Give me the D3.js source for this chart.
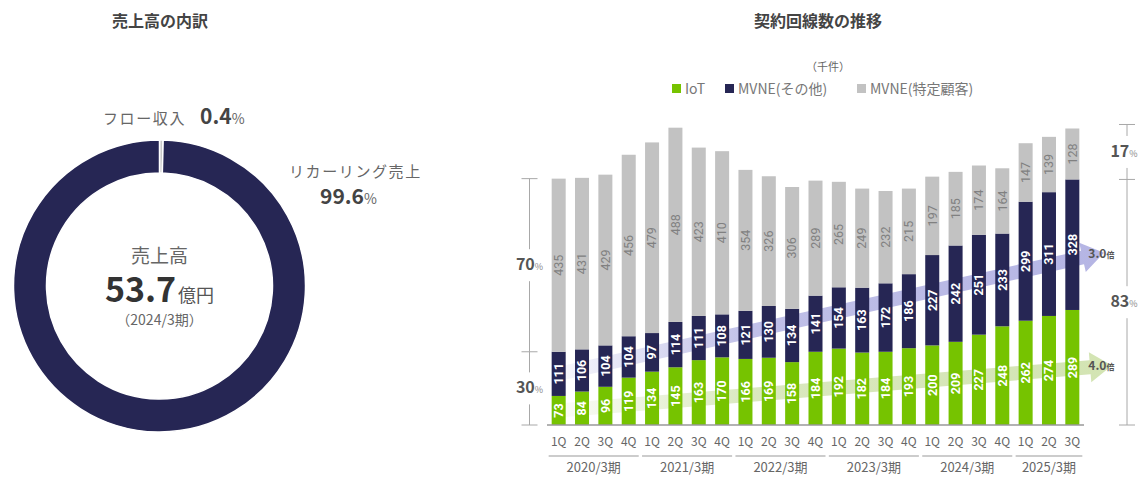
<!DOCTYPE html>
<html>
<head>
<meta charset="utf-8">
<script src="https://cdn.jsdelivr.net/npm/d3@7"></script>
<style>
  body { margin: 0; background: #fff; }
  svg { display: block; font-family: "Noto Sans CJK JP", "Noto Sans", sans-serif; }
</style>
</head>
<body>
<div id="chart"></div>
<script>
// donut data
const revenueKeys = ['フロー収入', 'リカーリング売上'];
const revenueShares = [0.4, 99.6];

// bar data (千件)
const quarterLabels = ['1Q', '2Q', '3Q', '4Q'];
const fiscalYears = ['2020/3期', '2021/3期', '2022/3期', '2023/3期', '2024/3期', '2025/3期'];
const quartersPerYear = [4, 4, 4, 4, 4, 3];
const iot = [73, 84, 96, 119, 134, 145, 163, 170, 166, 169, 158, 184, 192, 182, 184, 193, 200, 209, 227, 248, 262, 274, 289];
const mvneOther = [111, 106, 104, 104, 97, 114, 111, 108, 121, 130, 134, 141, 154, 163, 172, 186, 227, 242, 251, 233, 299, 311, 328];
const mvneSpecific = [435, 431, 429, 456, 479, 488, 423, 410, 354, 326, 306, 289, 265, 249, 232, 215, 197, 185, 174, 164, 147, 139, 128];
const seriesNames = ['IoT', 'MVNE(その他)', 'MVNE(特定顧客)'];

const colors = {
  iot: '#76c300',
  navy: '#262654',
  gray: '#c2c2c2',
  line: '#a8a8a8'
};

const W = 1139, H = 477;
const svg = d3.select('#chart').append('svg')
  .attr('width', W)
  .attr('height', H);

// ---------- left: donut ----------
svg.append('text')
  .attr('x', 160).attr('y', 27)
  .attr('text-anchor', 'middle')
  .attr('font-size', 16).attr('font-weight', 700)
  .attr('fill', '#444')
  .text('売上高の内訳');

const cx = 159.5, cy = 286;
const pie = d3.pie().sort(null).value(d => d.value);
const arc = d3.arc().innerRadius(113).outerRadius(146);
const donutData = revenueKeys.map((k, i) => ({ key: k, value: revenueShares[i] }));

const donut = svg.append('g').attr('transform', `translate(${cx},${cy})`);
donut.selectAll('path')
  .data(pie(donutData))
  .join('path')
  .attr('d', arc)
  .attr('fill', (d, i) => i === 0 ? '#c8c8c8' : colors.navy)
  .attr('stroke', '#fff')
  .attr('stroke-width', 1.5);

// center label
donut.append('text')
  .attr('y', -23).attr('text-anchor', 'middle')
  .attr('font-size', 19).attr('fill', '#666')
  .text('売上高');
const big = donut.append('text')
  .attr('y', 16).attr('text-anchor', 'middle')
  .attr('fill', '#333');
big.append('tspan').attr('font-size', 34).attr('font-weight', 700).text('53.7');
big.append('tspan').attr('font-size', 18).attr('fill', '#555').attr('dx', 2).text('億円');
donut.append('text')
  .attr('y', 39).attr('text-anchor', 'middle')
  .attr('font-size', 14).attr('fill', '#666')
  .text('（2024/3期）');

// outer labels
const flowLabel = svg.append('text')
  .attr('x', 103).attr('y', 124)
  .attr('fill', '#666');
flowLabel.append('tspan').attr('font-size', 15).attr('letter-spacing', 1.6).text(revenueKeys[0]);
flowLabel.append('tspan').attr('dx', 14).attr('font-size', 21).attr('font-weight', 700).attr('fill', '#444')
  .text(revenueShares[0].toFixed(1));
flowLabel.append('tspan').attr('font-size', 14).attr('fill', '#666').text('%');

svg.append('text')
  .attr('x', 289).attr('y', 177)
  .attr('font-size', 15).attr('letter-spacing', 1.6)
  .attr('fill', '#666')
  .text(revenueKeys[1]);
const recLabel = svg.append('text')
  .attr('x', 320).attr('y', 204)
  .attr('fill', '#444');
recLabel.append('tspan').attr('font-size', 21).attr('font-weight', 700).text(revenueShares[1].toFixed(1));
recLabel.append('tspan').attr('font-size', 14).attr('fill', '#666').text('%');

// ---------- right: stacked bars ----------
svg.append('text')
  .attr('x', 818).attr('y', 27)
  .attr('text-anchor', 'middle')
  .attr('font-size', 16).attr('font-weight', 700)
  .attr('fill', '#444')
  .text('契約回線数の推移');

svg.append('text')
  .attr('x', 828).attr('y', 71)
  .attr('text-anchor', 'middle')
  .attr('font-size', 11).attr('fill', '#666')
  .text('（千件）');

// legend
const legendItems = [
  { name: seriesNames[0], color: colors.iot, x: 672 },
  { name: seriesNames[1], color: colors.navy, x: 725 },
  { name: seriesNames[2], color: colors.gray, x: 857 }
];
const lg = svg.append('g').attr('class', 'legend');
legendItems.forEach(d => {
  lg.append('rect')
    .attr('x', d.x).attr('y', 84)
    .attr('width', 9).attr('height', 9)
    .attr('fill', d.color);
  lg.append('text')
    .attr('x', d.x + 13).attr('y', 94)
    .attr('font-size', 14).attr('fill', '#777')
    .text(d.name);
});

const n = iot.length;
const idx = d3.range(n);
const x = d3.scaleBand()
  .domain(idx)
  .range([547, 1084])
  .paddingInner(0.4)
  .paddingOuter(0.2);
const y = d3.scaleLinear().domain([0, 750]).range([425, 126.5]);

const rows = idx.map(i => ({
  i,
  iot: iot[i],
  mvneOther: mvneOther[i],
  mvneSpecific: mvneSpecific[i]
}));
const stack = d3.stack().keys(['iot', 'mvneOther', 'mvneSpecific']);
const layers = stack(rows);
const layerColors = [colors.iot, colors.navy, colors.gray];

// trend arrows (behind bars)
const defs = svg.append('defs');
function arrow(key, layerIndex, color, tipX, yOffset, id) {
  const first = layers[layerIndex][0];
  const last = layers[layerIndex][n - 1];
  const x0 = x(0) + x.bandwidth() / 2;
  const y0 = y((first[0] + first[1]) / 2);
  const x1 = tipX;
  const y1 = y((last[0] + last[1]) / 2) + yOffset;
  const grad = defs.append('linearGradient')
    .attr('id', id)
    .attr('gradientUnits', 'userSpaceOnUse')
    .attr('x1', x0).attr('y1', 0).attr('x2', x1).attr('y2', 0);
  grad.append('stop').attr('offset', 0).attr('stop-color', color).attr('stop-opacity', 0.1);
  grad.append('stop').attr('offset', 0.35).attr('stop-color', color).attr('stop-opacity', 0.85);
  grad.append('stop').attr('offset', 1).attr('stop-color', color).attr('stop-opacity', 1);

  const dx = x1 - x0, dy = y1 - y0;
  const len = Math.hypot(dx, dy);
  const ux = dx / len, uy = dy / len;
  const nx = -uy, ny = ux;
  const shaft = 7, head = 15, headLen = 22;
  const bx = x1 - ux * headLen, by = y1 - uy * headLen;
  const pts = [
    [x0 + nx * shaft, y0 + ny * shaft],
    [bx + nx * shaft, by + ny * shaft],
    [bx + nx * head, by + ny * head],
    [x1, y1],
    [bx - nx * head, by - ny * head],
    [bx - nx * shaft, by - ny * shaft],
    [x0 - nx * shaft, y0 - ny * shaft]
  ];
  svg.append('path')
    .attr('d', d3.line()(pts) + 'Z')
    .attr('fill', `url(#${id})`);
  return { x1, y1, ratio: last.data[key] / first.data[key] };
}
const purple = arrow('mvneOther', 1, '#b5b5e4', 1104, 8, 'gPurple');
const green = arrow('iot', 0, '#d3e4b3', 1112, -2, 'gGreen');

// bars
const barG = svg.append('g');
layers.forEach((layer, li) => {
  barG.selectAll(null)
    .data(layer)
    .join('rect')
    .attr('x', d => x(d.data.i))
    .attr('y', d => y(d[1]))
    .attr('width', x.bandwidth())
    .attr('height', d => y(d[0]) - y(d[1]))
    .attr('fill', layerColors[li]);

  barG.selectAll(null)
    .data(layer)
    .join('text')
    .attr('transform', d => `translate(${x(d.data.i) + x.bandwidth() / 2 + 4.3},${y((d[0] + d[1]) / 2)}) rotate(-90)`)
    .attr('text-anchor', 'middle')
    .attr('font-family', 'Roboto, sans-serif')
    .attr('font-size', 12.5)
    .attr('font-weight', li === 2 ? 400 : 700)
    .attr('fill', li === 2 ? '#808080' : '#fff')
    .text(d => d[1] - d[0]);
});

// arrow labels
[purple, green].forEach(a => {
  const t = svg.append('text')
    .attr('x', x(n - 1) + x.bandwidth() + 9)
    .attr('y', a.y1 + 5)
    .attr('fill', '#555');
  t.append('tspan').attr('font-size', 12).attr('font-weight', 700).text(a.ratio.toFixed(1));
  t.append('tspan').attr('font-size', 8).attr('font-weight', 700).text('倍');
});

// baseline
svg.append('line')
  .attr('x1', 547).attr('x2', 1084)
  .attr('y1', y(0)).attr('y2', y(0))
  .attr('stroke', '#999').attr('stroke-width', 1.5);

// x axis labels: quarters + fiscal years
const groupStarts = [];
let acc = 0;
quartersPerYear.forEach(q => { groupStarts.push(acc); acc += q; });
const groupOf = i => quartersPerYear.findIndex((q, g) => i >= groupStarts[g] && i < groupStarts[g] + q);

svg.append('g').selectAll('text')
  .data(idx)
  .join('text')
  .attr('x', i => x(i) + x.bandwidth() / 2)
  .attr('y', 446)
  .attr('text-anchor', 'middle')
  .attr('font-size', 12).attr('fill', '#666')
  .text(i => quarterLabels[i - groupStarts[groupOf(i)]]);

const groupG = svg.append('g');
fiscalYears.forEach((fy, g) => {
  const a = groupStarts[g], b = a + quartersPerYear[g] - 1;
  const left = x(a) - 3, right = x(b) + x.bandwidth() + 3;
  groupG.append('line')
    .attr('x1', left).attr('x2', right)
    .attr('y1', 456).attr('y2', 456)
    .attr('stroke', '#999').attr('stroke-width', 1);
  groupG.append('text')
    .attr('x', (left + right) / 2).attr('y', 472)
    .attr('text-anchor', 'middle')
    .attr('font-size', 13).attr('fill', '#666')
    .text(fy);
});

// brackets with share labels
function bracket(bx, labelX, yTop, yMid, yBot, topPct, botPct) {
  const g = svg.append('g');
  const gap = 16;
  const segs = [
    [yTop, (yTop + yMid) / 2 - gap], [(yTop + yMid) / 2 + gap, yMid],
    [yMid, (yMid + yBot) / 2 - gap], [(yMid + yBot) / 2 + gap, yBot]
  ];
  segs.forEach(s => {
    if (s[1] > s[0]) g.append('line')
      .attr('x1', bx).attr('x2', bx).attr('y1', s[0]).attr('y2', s[1])
      .attr('stroke', colors.line).attr('stroke-width', 1);
  });
  [yTop, yMid, yBot].forEach(v => {
    g.append('line')
      .attr('x1', bx - 8).attr('x2', bx + 8).attr('y1', v).attr('y2', v)
      .attr('stroke', colors.line).attr('stroke-width', 1);
  });
  [[topPct, (yTop + yMid) / 2], [botPct, (yMid + yBot) / 2]].forEach(([p, yy]) => {
    const t = g.append('text')
      .attr('x', labelX).attr('y', yy + 5)
      .attr('text-anchor', 'middle')
      .attr('fill', '#555');
    t.append('tspan').attr('font-size', 16).attr('font-weight', 700).text(p);
    t.append('tspan').attr('font-size', 9).attr('fill', '#888').text('%');
  });
}
const t0 = iot[0] + mvneOther[0] + mvneSpecific[0];
const tn = iot[n - 1] + mvneOther[n - 1] + mvneSpecific[n - 1];
bracket(529.5, 529.5, y(t0), y(iot[0] + mvneOther[0]), y(0),
  Math.round(mvneSpecific[0] / t0 * 100), Math.round((iot[0] + mvneOther[0]) / t0 * 100));
bracket(1127, 1124, y(tn) - 4, y(iot[n - 1] + mvneOther[n - 1]), y(0),
  Math.round(mvneSpecific[n - 1] / tn * 100), Math.round((iot[n - 1] + mvneOther[n - 1]) / tn * 100));
</script>
</body>
</html>
